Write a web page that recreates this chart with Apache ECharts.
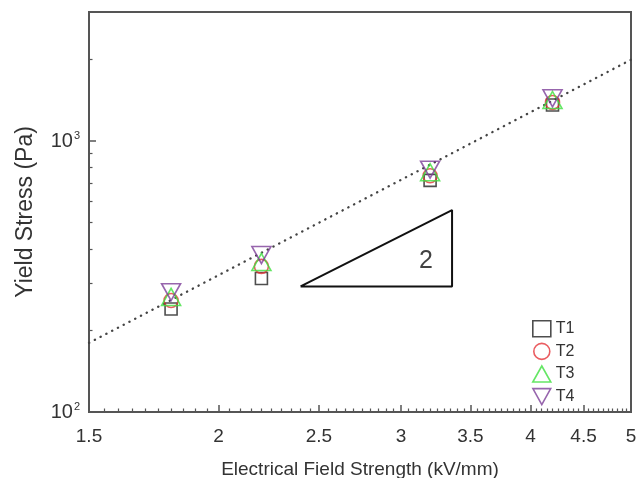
<!DOCTYPE html>
<html>
<head>
<meta charset="utf-8">
<script src="https://cdn.jsdelivr.net/npm/echarts@6/dist/echarts.min.js"></script>
<style>
html,body{margin:0;padding:0;background:#fff;}
#chart{width:639px;height:478px;}
</style>
</head>
<body>
<div id="chart"></div>
<script>
// ---- data ----
const xMajorTicks = [1.5, 2, 2.5, 3, 3.5, 4, 4.5, 5];
const xMinorStep = 0.05;
const yMajorTicks = [100, 1000];
const yMinorTicks = [200, 300, 400, 500, 600, 700, 800, 900, 2000];
const seriesNames = ['T1', 'T2', 'T3', 'T4'];
const fieldStrength = [1.8, 2.2, 3.2, 4.2];
const yieldT1 = [240, 311, 717, 1360];
const yieldT2 = [258, 345, 745, 1390];
const yieldT3 = [266, 358, 768, 1420];
const yieldT4 = [277, 380, 785, 1440];
const fitX = [1.5, 5];
const fitY = [180, 2000];
const triangleX = [2.4, 3.36, 3.36, 2.4];
const triangleY = [291, 291, 557, 291];
const slopeLabelX = [3.17];
const slopeLabelY = [362];
const slopeLabelText = '2';

// ---- build ----
const xMinorTicks = [];
for (let v = 1.5 + xMinorStep; v < 5 - 1e-6; v += xMinorStep) {
  const r = Math.round(v * 100) / 100;
  if (xMajorTicks.indexOf(r) < 0) xMinorTicks.push(r);
}
const pairs = (xs, ys) => xs.map((x, i) => [x, ys[i]]);
const yieldAll = [yieldT1, yieldT2, yieldT3, yieldT4];
const symbols = ['rect', 'circle', 'triangle', 'path://M0,0L20,0L10,18Z'];
const sizes = [[12, 12], [14, 14], [19, 17], [19, 17]];
const colors = ['#222222', '#e5353a', '#3fe03f', '#7d3f98'];

const axisColor = '#555';
const textColor = '#333';
const font = 'Liberation Sans, Arial, sans-serif';

const seriesList = seriesNames.map((name, i) => ({
  name: name,
  type: 'scatter',
  xAxisIndex: 0, yAxisIndex: 0,
  symbol: symbols[i],
  symbolSize: sizes[i],
  itemStyle: { color: 'rgba(255,255,255,0)', borderColor: colors[i], borderWidth: 1.6 },
  data: pairs(fieldStrength, yieldAll[i]),
  z: 5 + i
}));

seriesList.unshift({
  name: 'fit', type: 'line', xAxisIndex: 0, yAxisIndex: 0,
  data: pairs(fitX, fitY), showSymbol: false, symbol: 'none', silent: true,
  lineStyle: { color: '#444', width: 2.3, type: [0.3, 6.2], cap: 'round' }, z: 3
});
seriesList.push({
  name: 'slope', type: 'line', xAxisIndex: 0, yAxisIndex: 0,
  data: pairs(triangleX, triangleY), showSymbol: false, symbol: 'none', silent: true,
  lineStyle: { color: '#111', width: 2 }, z: 3
});
seriesList.push({
  name: 'slopeLabel', type: 'scatter', xAxisIndex: 0, yAxisIndex: 0,
  data: pairs(slopeLabelX, slopeLabelY), symbolSize: 0, silent: true,
  label: { show: true, position: 'inside', formatter: slopeLabelText, fontSize: 25, color: '#111', fontFamily: font }
});

const chart = echarts.init(document.getElementById('chart'), null, { renderer: 'canvas' });
chart.setOption({
  animation: false,
  backgroundColor: '#fff',
  grid: { left: 89, right: 8, top: 12, bottom: 66, containLabel: false, outerBoundsMode: 'none',
    show: true, borderColor: axisColor, borderWidth: 2, backgroundColor: 'transparent' },
  legend: {
    data: seriesNames, orient: 'vertical', left: 527, top: 315,
    itemWidth: 18, itemHeight: 16, itemGap: 5,
    textStyle: { fontSize: 16, color: textColor, fontFamily: font, lineHeight: 16 },
    itemStyle: { borderWidth: 1.6 }
  },
  xAxis: [{
    type: 'log', logBase: 10, min: 1.5, max: 5,
    name: 'Electrical Field Strength (kV/mm)', nameLocation: 'middle', nameGap: 48,
    nameTextStyle: { fontSize: 19, color: textColor, fontFamily: font },
    axisLine: { show: true, lineStyle: { color: axisColor, width: 2 } },
    axisTick: { show: true, inside: true, length: 7, customValues: xMajorTicks, lineStyle: { color: axisColor, width: 1.5 } },
    axisLabel: { show: true, customValues: xMajorTicks, margin: 15, fontSize: 19, color: textColor, fontFamily: font,
      formatter: v => String(Math.round(v * 100) / 100) },
    splitLine: { show: false }, minorTick: { show: false }
  }, {
    type: 'log', logBase: 10, min: 1.5, max: 5, position: 'bottom', gridIndex: 0,
    axisLine: { show: false },
    axisTick: { show: true, inside: true, length: 3.5, customValues: xMinorTicks, lineStyle: { color: axisColor, width: 1.2 } },
    axisLabel: { show: false },
    splitLine: { show: false }
  }],
  yAxis: [{
    type: 'log', logBase: 10, min: 100, max: 3000,
    name: 'Yield Stress (Pa)', nameLocation: 'middle', nameGap: 52, nameRotate: 90,
    nameTextStyle: { fontSize: 23, color: textColor, fontFamily: font },
    axisLine: { show: true, lineStyle: { color: axisColor, width: 2 } },
    axisTick: { show: true, inside: true, length: 7, customValues: yMajorTicks, lineStyle: { color: axisColor, width: 1.5 } },
    axisLabel: { show: true, customValues: yMajorTicks, margin: 9, color: textColor, fontFamily: font,
      formatter: v => '{b|10}{s|' + Math.round(Math.log10(v)) + '}',
      rich: {
        b: { fontSize: 20, lineHeight: 22, color: textColor, fontFamily: font },
        s: { fontSize: 11, lineHeight: 11, verticalAlign: 'top', color: textColor, fontFamily: font, padding: [0, 0, 0, 1] }
      } },
    splitLine: { show: false }, minorTick: { show: false }
  }, {
    type: 'log', logBase: 10, min: 100, max: 3000, position: 'left', gridIndex: 0,
    axisLine: { show: false },
    axisTick: { show: true, inside: true, length: 3.5, customValues: yMinorTicks, lineStyle: { color: axisColor, width: 1.2 } },
    axisLabel: { show: false },
    splitLine: { show: false }
  }],
  series: seriesList
});
</script>
</body>
</html>
